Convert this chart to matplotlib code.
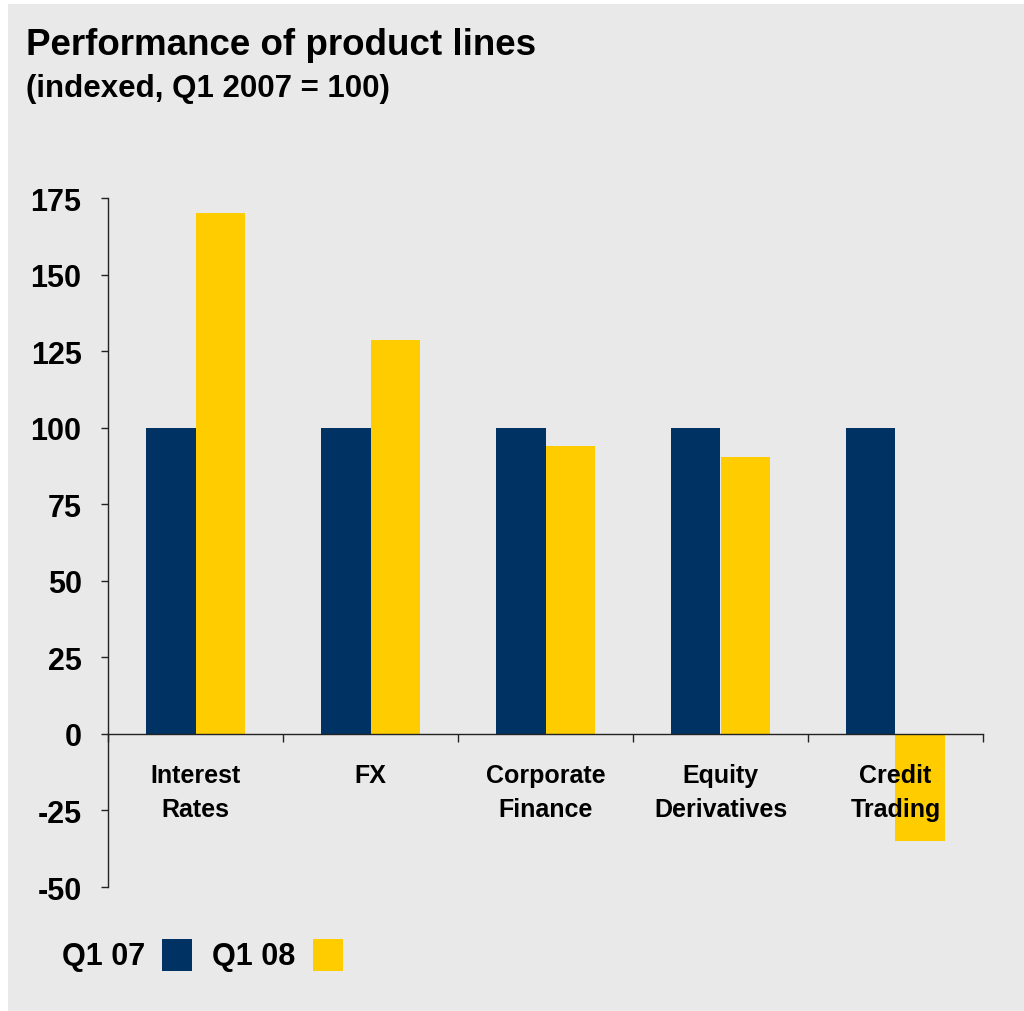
import matplotlib
matplotlib.use("Agg")
import matplotlib.pyplot as plt
from matplotlib.patches import Rectangle
import numpy as np

plt.rcParams['font.family'] = ['Liberation Sans', 'DejaVu Sans']
plt.rcParams['font.weight'] = 'bold'

categories = ["Interest\nRates", "FX", "Corporate\nFinance", "Equity\nDerivatives", "Credit\nTrading"]
q1_07 = [100, 100, 100, 100, 100]
q1_08 = [170, 128.5, 94, 90.5, -35]
series_labels = ["Q1 07", "Q1 08"]
yticks = [-50, -25, 0, 25, 50, 75, 100, 125, 150, 175]

NAVY = "#003263"
YELLOW = "#ffcc00"
BG = "#e9e9e9"
W, H = 1024, 1012

fig = plt.figure(figsize=(W / 100, H / 100), dpi=100, facecolor="white")
# grey panel behind everything
fig.patches.append(Rectangle((8 / W, 0), 1 - 8 / W, 1 - 5 / H, transform=fig.transFigure,
                             facecolor=BG, edgecolor="none", zorder=-10))

ax = fig.add_axes([108 / W, 1 - 888 / H, (983 - 108) / W, (888 - 199) / H])
ax.set_facecolor("none")

x = np.arange(len(categories))
bw = 0.283
# bars sit below the axis artists so category labels print over them
ax.bar(x - bw / 2, q1_07, width=bw, color=NAVY, zorder=1)
ax.bar(x + bw / 2, q1_08, width=bw, color=YELLOW, zorder=1)

ax.set_xlim(-0.5, len(categories) - 0.5)
ax.set_ylim(-50, 175)

for s in ("top", "right"):
    ax.spines[s].set_visible(False)
ax.spines["left"].set_color("#222222")
ax.spines["left"].set_linewidth(1.0)
ax.spines["bottom"].set_position(("data", 0))
ax.spines["bottom"].set_color("#222222")
ax.spines["bottom"].set_linewidth(1.0)
ax.spines["bottom"].set_zorder(3)

ax.set_yticks(yticks)
ax.set_yticklabels([str(v) for v in yticks], fontsize=22, fontweight="bold")
ax.tick_params(axis="y", direction="out", length=5, width=1.0, color="#222222", pad=14)

ax.set_xticks(np.arange(-0.5, len(categories), 1.0))
ax.set_xticklabels([])
ax.tick_params(axis="x", which="major", direction="out", length=6, width=1.0, color="#222222")
ax.set_xticks(x, minor=True)
ax.set_xticklabels(categories, minor=True, fontsize=18, fontweight="bold", linespacing=1.5)
ax.tick_params(axis="x", which="minor", length=0, pad=21)

# titles
fig.text(26 / W, 1 - 55 / H, "Performance of product lines", fontsize=26.5, fontweight="bold",
         ha="left", va="baseline")
fig.text(26 / W, 1 - 97 / H, "(indexed, Q1 2007 = 100)", fontsize=22.5, fontweight="bold",
         ha="left", va="baseline")

# legend
fig.text(62 / W, 1 - 957 / H, series_labels[0], fontsize=22, fontweight="bold", ha="left", va="center")
fig.patches.append(Rectangle((162 / W, 1 - 972 / H), 30 / W, 32 / H, transform=fig.transFigure,
                             facecolor=NAVY, edgecolor="none"))
fig.text(212 / W, 1 - 957 / H, series_labels[1], fontsize=22, fontweight="bold", ha="left", va="center")
fig.patches.append(Rectangle((313 / W, 1 - 972 / H), 30 / W, 32 / H, transform=fig.transFigure,
                             facecolor=YELLOW, edgecolor="none"))

fig.savefig("out.png", dpi=100, facecolor="white")
